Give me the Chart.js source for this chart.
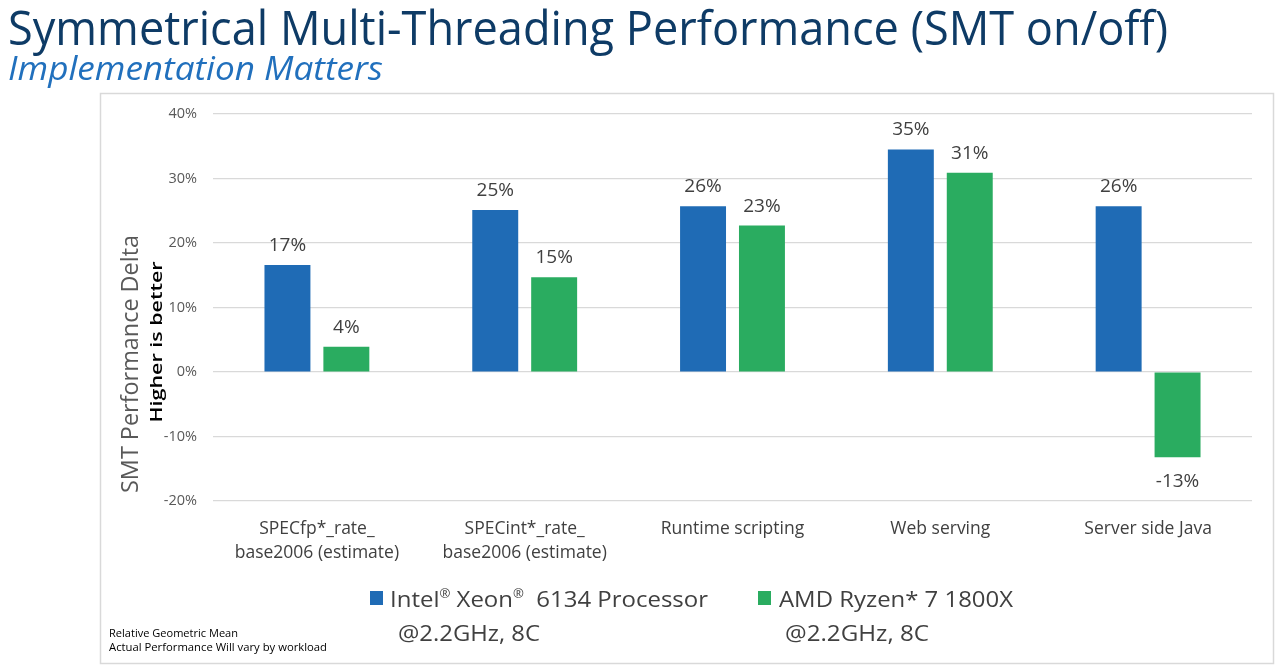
<!DOCTYPE html>
<html>
<head>
<meta charset="utf-8">
<script src="https://cdn.jsdelivr.net/npm/chart.js@4.4.1/dist/chart.umd.min.js"></script>
<style>
body { margin: 0; background: #fff; font-family: "Open Sans", sans-serif; }
#pagina { position: relative; width: 1280px; height: 671px; overflow: hidden; }
#grafico { position: absolute; left: 0; top: 0; }
.txt { position: absolute; white-space: nowrap; transform-origin: 0 0; line-height: 1; }
#titulo { left: 8px; top: 4px; font-size: 47px; color: #0e3b66; }
#subtitulo { left: 8px; top: 52px; font-size: 32px; font-style: italic; color: #2170bd; }
.leg { font-size: 22px; color: #404040; line-height: 34px; }
.leg sup { font-size: 12px; vertical-align: 9px; line-height: 0; }
.quadrado { position: absolute; width: 13px; height: 14px; }
.rodape { font-size: 11px; color: #000; line-height: 14px; }
</style>
</head>
<body>
<div id="pagina">
  <canvas id="grafico" width="1280" height="671"></canvas>
  <div id="titulo" class="txt" data-w="1160">Symmetrical Multi-Threading Performance (SMT on/off)</div>
  <div id="subtitulo" class="txt" data-w="375">Implementation Matters</div>
  <div id="legenda"></div>
  <div class="txt rodape" style="left:109px;top:626px" data-w="129">Relative Geometric Mean</div>
  <div class="txt rodape" style="left:109px;top:640px" data-w="218">Actual Performance Will vary by workload</div>
</div>
<script>
const categorias = [
    ['SPECfp*_rate_', 'base2006 (estimate)'],
    ['SPECint*_rate_', 'base2006 (estimate)'],
    'Runtime scripting',
    'Web serving',
    'Server side Java'
];
const serieIntel = ['Intel® Xeon®  6134 Processor', '@2.2GHz, 8C'];
const serieAmd = ['AMD Ryzen* 7 1800X', '@2.2GHz, 8C'];
const valoresIntel = [16.6, 25.1, 25.7, 34.5, 25.7];
const valoresAmd = [3.9, 14.7, 22.7, 30.9, -13.2];
const ticksY = [-20, -10, 0, 10, 20, 30, 40];

const azul = '#1f6bb5';
const verde = '#2aac60';

function textoVertical(ctx, txt, x, y, fonte, cor, largura) {
    ctx.save();
    ctx.font = fonte;
    ctx.fillStyle = cor;
    ctx.translate(x, y);
    ctx.rotate(-Math.PI / 2);
    var w = ctx.measureText(txt).width;
    ctx.scale(largura / w, 1);
    ctx.textAlign = 'center';
    ctx.textBaseline = 'middle';
    ctx.fillText(txt, 0, 0);
    ctx.restore();
}

const extras = {
    id: 'extras',
    beforeDraw(chart) {
        var ctx = chart.ctx;
        ctx.save();
        ctx.fillStyle = '#fff';
        ctx.fillRect(0, 0, chart.width, chart.height);
        ctx.strokeStyle = '#d9d9d9';
        ctx.lineWidth = 1.5;
        ctx.strokeRect(100.5, 93.5, 1173, 570);
        ctx.restore();
    },
    afterDatasetsDraw(chart) {
        var ctx = chart.ctx;
        ctx.save();
        ctx.font = '19px "Open Sans"';
        ctx.fillStyle = '#404040';
        ctx.textAlign = 'center';
        ctx.textBaseline = 'alphabetic';
        chart.data.datasets.forEach(function (ds, i) {
            chart.getDatasetMeta(i).data.forEach(function (barra, j) {
                var v = ds.data[j];
                var y = v >= 0 ? barra.y - 14 : barra.y + 30;
                ctx.fillText(Math.round(v) + '%', barra.x, y);
            });
        });
        ctx.restore();
        textoVertical(ctx, 'SMT Performance Delta', 131, 364, '23px "Open Sans"', '#595959', 258);
        textoVertical(ctx, 'Higher is better', 157, 342, '600 16px "Open Sans"', '#000', 161);
    }
};

function criarGrafico() {
    new Chart(document.getElementById('grafico'), {
        type: 'bar',
        data: {
            labels: categorias,
            datasets: [{
                label: serieIntel.join(' '),
                data: valoresIntel,
                backgroundColor: azul,
                categoryPercentage: 0.567,
                barPercentage: 0.78
            }, {
                label: serieAmd.join(' '),
                data: valoresAmd,
                backgroundColor: verde,
                categoryPercentage: 0.567,
                barPercentage: 0.78
            }]
        },
        options: {
            responsive: false,
            animation: false,
            layout: { padding: { top: 114, right: 28, bottom: 100, left: 0 } },
            plugins: { legend: { display: false }, tooltip: { enabled: false } },
            scales: {
                x: {
                    grid: { display: false },
                    border: { display: false },
                    ticks: {
                        padding: 8,
                        color: '#404040',
                        font: { family: 'Open Sans', size: 17.5, lineHeight: 1.37 },
                        maxRotation: 0
                    },
                    afterFit: function (s) { s.height = 70; }
                },
                y: {
                    min: ticksY[0],
                    max: ticksY[ticksY.length - 1],
                    afterBuildTicks: function (s) { s.ticks = ticksY.map(function (v) { return { value: v }; }); },
                    grid: { color: '#d9d9d9', lineWidth: 1.2, drawTicks: false },
                    border: { display: false },
                    ticks: {
                        padding: 16,
                        color: '#595959',
                        font: { family: 'Open Sans', size: 14.5 },
                        callback: function (v) { return v + '%'; }
                    },
                    afterFit: function (s) { s.width = 213; }
                }
            }
        },
        plugins: [extras]
    });
}

function criarLegenda() {
    var itens = [
        { linhas: serieIntel, cor: azul, xq: 370, xt: 390, x2: 398, w: [318, 142] },
        { linhas: serieAmd, cor: verde, xq: 758, xt: 779, x2: 785, w: [234, 144] }
    ];
    var html = '';
    itens.forEach(function (it) {
        html += '<div class="quadrado" style="left:' + it.xq + 'px;top:591px;background:' + it.cor + '"></div>';
        html += '<div class="txt leg" style="left:' + it.xt + 'px;top:581px" data-w="' + it.w[0] + '">' +
            it.linhas[0].replace(/®/g, '<sup>®</sup>').replace(/  /g, '&nbsp; ') + '</div>';
        html += '<div class="txt leg" style="left:' + it.x2 + 'px;top:615px" data-w="' + it.w[1] + '">' +
            it.linhas[1] + '</div>';
    });
    document.getElementById('legenda').innerHTML = html;
}

function ajustarLarguras() {
    document.querySelectorAll('[data-w]').forEach(function (el) {
        var w = el.getBoundingClientRect().width;
        el.style.transform = 'scaleX(' + (el.dataset.w / w) + ')';
    });
}

criarLegenda();
ajustarLarguras();
criarGrafico();
</script>
</body>
</html>
